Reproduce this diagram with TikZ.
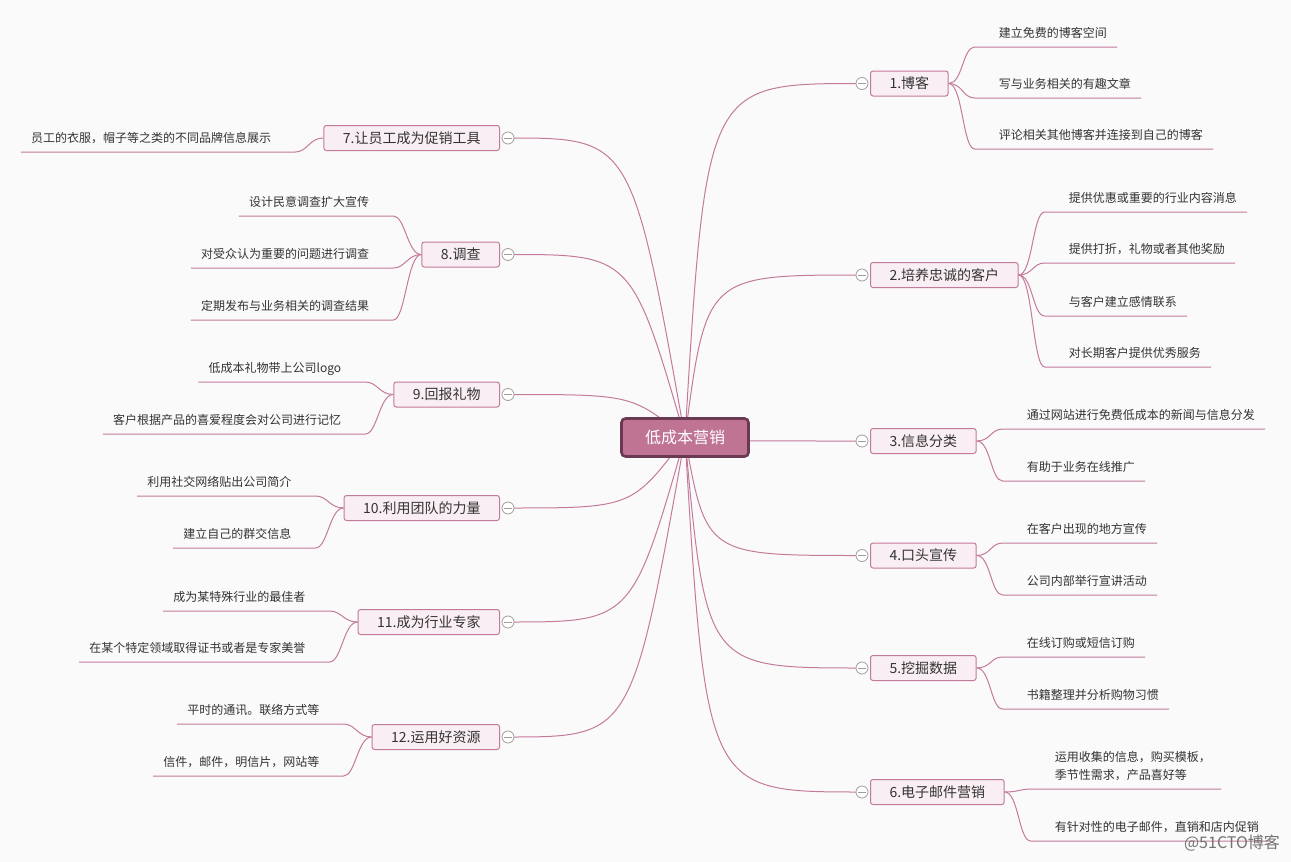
\documentclass[tikz,border=0pt]{standalone}
\usepackage{fontspec}
\setmainfont{Noto Sans CJK SC}
\usetikzlibrary{calc,backgrounds}
\definecolor{bgc}{HTML}{FAFAFA}
\definecolor{linec}{HTML}{C47A9B}
\definecolor{rootfill}{HTML}{BF7494}
\definecolor{rootedge}{HTML}{6A3A52}
\definecolor{topfill}{HTML}{F8EEF3}
\definecolor{txt}{HTML}{333333}

\begin{document}
\begin{tikzpicture}[x=1pt, y=-1pt,
  link/.style={draw=linec, line width=1pt},
  root/.style={draw=rootedge, line width=2.6pt, fill=rootfill, rounded corners=4pt,
    minimum width=127pt, minimum height=38pt, text=white, font=\fontsize{16}{18}\selectfont},
  topic/.style={draw=linec, line width=1pt, fill=topfill, rounded corners=2.5pt,
    minimum height=25pt, inner xsep=19pt, text=txt, font=\fontsize{14}{16}\selectfont},
  sub/.style={inner sep=0pt, text=txt, font=\fontsize{12}{18}\selectfont},
  fold/.style={circle, draw=gray!75, fill=white, line width=0.8pt, minimum size=12pt, inner sep=0pt,
    path picture={\draw[gray!75, line width=0.8pt] ([xshift=-4pt]path picture bounding box.center)
      -- ([xshift=4pt]path picture bounding box.center);}}]
  \useasboundingbox (0,0) rectangle (1291,862);

  % central topic
  \node[root] (root) at (685,437.5) {低成本营销};

  % main topics, right side
  \foreach \i/\y/\t in {1/83.5/1.博客, 2/275/2.培养忠诚的客户, 3/441/3.信息分类,
      4/555.5/4.口头宣传, 5/668/5.挖掘数据, 6/792/6.电子邮件营销} {
    \node[topic, anchor=west] (t\i) at (870,\y) {\t};
    \node[fold] (f\i) at ($(t\i.west)+(-8,0)$) {};
  }
  % main topics, left side
  \foreach \i/\y/\t in {7/138/7.让员工成为促销工具, 8/254.5/8.调查, 9/394.5/9.回报礼物,
      10/508/10.利用团队的力量, 11/622/11.成为行业专家, 12/737/12.运用好资源} {
    \node[topic, anchor=east] (t\i) at (500,\y) {\t};
    \node[fold] (f\i) at ($(t\i.east)+(8,0)$) {};
  }

  % branches from the centre
  \begin{scope}[on background layer]
    \fill[bgc] (0,0) rectangle (1291,862);
    \foreach \i/\k in {1/0.12, 2/0.12, 3/0.12, 4/0.12, 5/0.12, 6/0.12,
        7/0.3, 8/0.3, 9/0.3, 10/0.3, 11/0.3, 12/0.3}
      \draw[link] (root.center) .. controls ($(root.center |- f\i.center)!\k!(f\i.center)$) .. (f\i.center);
  \end{scope}

  % subtopics, right side (underlined text)
  \foreach \b/\y/\s [count=\k] in {1/47/建立免费的博客空间, 1/98/写与业务相关的有趣文章,
      1/149/评论相关其他博客并连接到自己的博客,
      2/212/提供优惠或重要的行业内容消息, 2/263/提供打折，礼物或者其他奖励,
      2/316/与客户建立感情联系, 2/367/对长期客户提供优秀服务,
      3/429/通过网站进行免费低成本的新闻与信息分发, 3/481/有助于业务在线推广,
      4/543/在客户出现的地方宣传, 4/595/公司内部举行宣讲活动,
      5/657/在线订购或短信订购, 5/709/书籍整理并分析购物习惯,
      6/841/有针对性的电子邮件，直销和店内促销} {
    \node[sub, anchor=base west] (r\k) at ($(t\b.east |- 0,\y)+(50,-9.5)$) {\s};
    \draw[link] (t\b.east) .. controls +(14,0) and +(-12,0) .. ($(r\k.base west)+(-24,9.5)$)
      -- ($(r\k.base east)+(10,9.5)$);
  }
  \node[sub, anchor=south west, align=left] (r0) at ($(t6.east |- 0,789)+(50,-8)$)
    {运用收集的信息，购买模板，\\季节性需求，产品喜好等};
  \draw[link] (t6.east) .. controls +(14,0) and +(-12,0) .. ($(t6.east |- 0,789)+(27,0)$)
    -- ($(r0.east |- 0,789)+(10,0)$);

  % subtopics, left side
  \foreach \b/\y/\s [count=\k] in {7/152/员工的衣服，帽子等之类的不同品牌信息展示,
      8/216/设计民意调查扩大宣传, 8/268/对受众认为重要的问题进行调查, 8/320/定期发布与业务相关的调查结果,
      9/382/低成本礼物带上公司logo, 9/434/客户根据产品的喜爱程度会对公司进行记忆,
      10/496/利用社交网络贴出公司简介, 10/548/建立自己的群交信息,
      11/611/成为某特殊行业的最佳者, 11/662/在某个特定领域取得证书或者是专家美誉,
      12/724/平时的通讯。联络方式等, 12/776/信件，邮件，明信片，网站等} {
    \node[sub, anchor=base east] (l\k) at ($(t\b.west |- 0,\y)+(-52,-9.5)$) {\s};
    \draw[link] (t\b.west) .. controls +(-14,0) and +(12,0) .. ($(l\k.base east)+(24,9.5)$)
      -- ($(l\k.base west)+(-10,9.5)$);
  }

  % watermark
  \node[text=black!55, font=\fontsize{16}{18}\selectfont] (wm) at (1232,843) {@51CTO博客};
\end{tikzpicture}
\end{document}
